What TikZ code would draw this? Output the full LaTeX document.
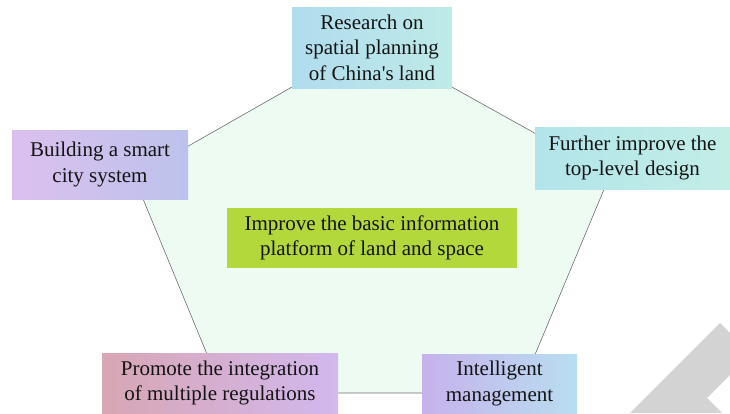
\documentclass[tikz,border=0pt]{standalone}
\usepackage{fontspec}
\setmainfont{Liberation Serif}
\usetikzlibrary{positioning}
\definecolor{mint}{HTML}{EDFBF2}
\definecolor{edgegray}{HTML}{6E6E6E}
\definecolor{topA}{HTML}{B0DCEE}
\definecolor{topB}{HTML}{BEEAE8}
\definecolor{leftA}{HTML}{DCC0EE}
\definecolor{leftB}{HTML}{BCC2EC}
\definecolor{rightA}{HTML}{B2E4EA}
\definecolor{rightB}{HTML}{C2EEE6}
\definecolor{blA}{HTML}{D8A6B4}
\definecolor{blM}{HTML}{E2C2EA}
\definecolor{blB}{HTML}{D2B8EE}
\definecolor{brA}{HTML}{C6B2EC}
\definecolor{brB}{HTML}{B8DEF0}
\definecolor{centerG}{HTML}{B2D83C}
\definecolor{wmgray}{HTML}{D3D3D3}
\definecolor{txt}{HTML}{141414}
\tikzset{
  boxnode/.style={inner sep=0pt, align=center, text=txt,
    font=\fontsize{21}{25.5}\selectfont},
}
\begin{document}
\begin{tikzpicture}[x=1pt,y=-1pt]
\useasboundingbox (0,0) rectangle (730,413);
% pentagon vertices
\coordinate (vt) at (371,42);
\coordinate (vr) at (610,175);
\coordinate (vbr) at (519,393);
\coordinate (vbl) at (223,393);
\coordinate (vl) at (134,177);
\draw[edgegray, line width=0.6pt, fill=mint] (vt) -- (vr) -- (vbr) -- (vbl) -- (vl) -- cycle;
% watermark shape
\fill[wmgray] (720,323) -- (730,333) -- (730,375) -- (707,398) -- (722,413) -- (630,413) -- cycle;
% boxes
\node[boxnode, minimum width=160pt, minimum height=81pt, left color=topA, right color=topB] (top) at (372,47.5)
  {Research on\\spatial planning\\of China\textquotesingle s land};
\node[boxnode, minimum width=176pt, minimum height=69pt, left color=leftA, right color=leftB] (left) at (100,164.5)
  {Building a smart\\city system};
\node[boxnode, minimum width=195pt, minimum height=62pt, left color=rightA, right color=rightB] (right) at (632.5,158)
  {Further improve the\\top-level design};
\node[boxnode, minimum width=236pt, minimum height=60pt, left color=blA, middle color=blM, right color=blB] (botleft) at (220,383)
  {Promote the integration\\of multiple regulations};
\node[boxnode, minimum width=155pt, minimum height=59pt, left color=brA, right color=brB] (botright) at (499.5,383.5)
  {Intelligent\\management};
\node[boxnode, minimum width=290pt, minimum height=60pt, fill=centerG] (center) at (372,238)
  {Improve the basic information\\platform of land and space};
\end{tikzpicture}
\end{document}
